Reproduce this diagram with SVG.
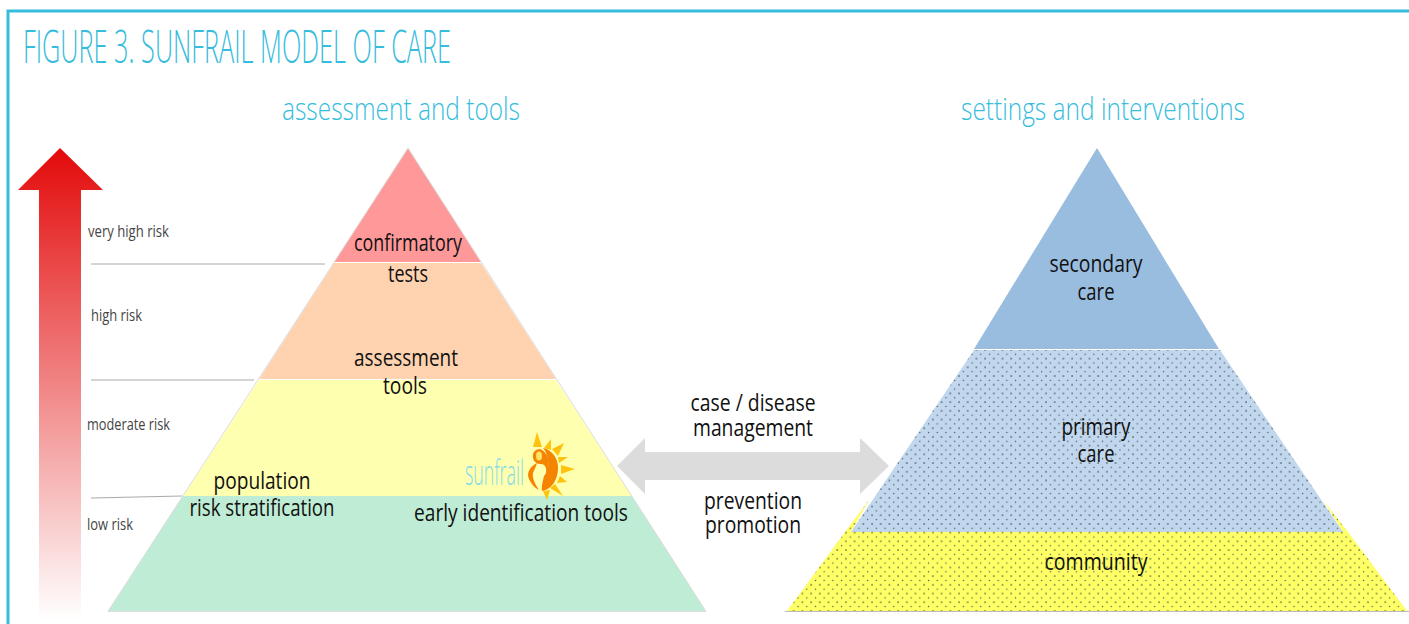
<svg xmlns="http://www.w3.org/2000/svg" width="1409" height="624" viewBox="0 0 1409 624">
<style>
.t{font-family:"Open Sans","Noto Sans",sans-serif;fill:#111;font-size:24px;text-anchor:middle}
.r{font-family:"Open Sans","Noto Sans",sans-serif;fill:#444;font-size:17px}
.h{font-family:"Open Sans","Noto Sans",sans-serif;fill:#36bcdc;font-size:32px;font-weight:300}
.l{stroke:#aaa;stroke-width:1;fill:none}
.e{stroke:#ddd;stroke-width:1;fill:none}
</style>
<defs>
<linearGradient id="g" x1="0" y1="0" x2="0" y2="1"><stop offset="0" stop-color="#e30a0a"/><stop offset="1" stop-color="#fff"/></linearGradient>
<pattern id="d" width="8.700" height="8.700" patternUnits="userSpaceOnUse"><circle cx="2" cy="2" r=".75" fill="#222"/><circle cx="6.350" cy="6.350" r=".7" fill="#555"/></pattern>
</defs>
<rect x="8" y="11" width="1420" height="640" fill="none" stroke="#36bcdc" stroke-width="3"/>
<text class="h" x="23" y="63" style="font-size:46px" textLength="428" lengthAdjust="spacingAndGlyphs">FIGURE 3. SUNFRAIL MODEL OF CARE</text>
<text class="h" x="282" y="120" textLength="238" lengthAdjust="spacingAndGlyphs">assessment and tools</text>
<text class="h" x="961" y="120" textLength="284" lengthAdjust="spacingAndGlyphs">settings and interventions</text>
<g id="risk-arrow"><polygon points="60,148 103,190 81,190 81,620 39,620 39,190 18,190" fill="url(#g)"/></g>
<g id="risk-labels">
<text class="r" x="88" y="237" textLength="81" lengthAdjust="spacingAndGlyphs">very high risk</text>
<text class="r" x="91" y="321" textLength="51" lengthAdjust="spacingAndGlyphs">high risk</text>
<text class="r" x="87" y="430" textLength="83" lengthAdjust="spacingAndGlyphs">moderate risk</text>
<text class="r" x="87" y="530" textLength="46" lengthAdjust="spacingAndGlyphs">low risk</text>
</g>
<g id="connectors">
<path class="l" d="M91 264H325M91 380H254M91 498L182 496"/>
<polygon points="617,466 645,438 645,452 860,452 860,438 889,466 860,494 860,480 645,480 645,494" fill="#dcdcdc"/>
</g>
<g id="left-pyramid">
<g id="level-confirmatory"><polygon points="408,148 481,262 334,262" fill="#ff9999"/></g>
<g id="level-assessment"><polygon points="334,263 481,263 556,379 259,379" fill="#ffd3b0"/></g>
<g id="level-early"><polygon points="259,380 556,380 632,496 183,496" fill="#ffffb0"/></g>
<g id="level-low"><polygon points="183,496 632,496 706,611 108,611" fill="#bfecd5"/></g>
<polygon class="e" points="408,148 706,611.500 108,611.500"/>
<text class="t" x="408" y="251" textLength="108" lengthAdjust="spacingAndGlyphs">confirmatory</text>
<text class="t" x="408" y="282" textLength="40" lengthAdjust="spacingAndGlyphs">tests</text>
<text class="t" x="406" y="366" textLength="104" lengthAdjust="spacingAndGlyphs">assessment</text>
<text class="t" x="405" y="394" textLength="44" lengthAdjust="spacingAndGlyphs">tools</text>
<text class="t" x="262" y="489" textLength="97" lengthAdjust="spacingAndGlyphs">population</text>
<text class="t" x="262" y="516" textLength="145" lengthAdjust="spacingAndGlyphs">risk stratification</text>
<text class="t" x="521" y="521" textLength="214" lengthAdjust="spacingAndGlyphs">early identification tools</text>
</g>
<g id="sunfrail-logo">
<g fill="#ffc20e">
<polygon points="537,432 542,447 533,447"/><polygon points="551,439 551,450 544,448"/><polygon points="564,443 558,456 552,449"/><polygon points="568,457 559,463 558,457"/><polygon points="575,469 561,474 561,465"/><polygon points="567,482 557,483 560,476"/><polygon points="563,496 550,488 555,484"/><polygon points="547,500 543,491 550,490"/>
</g>
<path d="M543 448C553 450 559 460 558 470C557 482 550 490 542 491C541 486 543 481 544 476C548 472 549 466 548 460C547 454 545 450 543 448Z" fill="#f58400"/>
<path d="M540 449C535 449 532 453 533 458C534 462 537 464 541 464C545 464 548 468 545 476L543 480L548 470C550 462 548 452 540 449Z" fill="#f58400"/>
<path d="M537 463C531 466 526 472 529 479C531 484 535 488 539 490C535 484 532 478 533 473C534 470 536 467 537 463Z" fill="#f58400"/>
<ellipse cx="539" cy="456" rx="3" ry="4.500" fill="#ffe26a"/>
<text x="465" y="485" style="font-family:'Open Sans',sans-serif;font-weight:300;font-size:35px;fill:#7fdce8" textLength="59" lengthAdjust="spacingAndGlyphs">sunfrail</text>
</g>
<g id="center-labels">
<text class="t" x="753" y="411" textLength="125" lengthAdjust="spacingAndGlyphs">case / disease</text>
<text class="t" x="753" y="436" textLength="120" lengthAdjust="spacingAndGlyphs">management</text>
<text class="t" x="753" y="509" textLength="98" lengthAdjust="spacingAndGlyphs">prevention</text>
<text class="t" x="753" y="533" textLength="96" lengthAdjust="spacingAndGlyphs">promotion</text>
</g>
<g id="right-pyramid">
<g id="level-community"><polygon points="869,500 845,532 787,611 1407,611 1348,532 1323,500 1343,532 851,532" fill="#ffff66"/><polygon points="869,500 845,532 787,611 1407,611 1348,532 1323,500 1343,532 851,532" fill="url(#d)"/></g>
<g id="level-primary"><polygon points="974,350 1220,350 1343,532 851,532" fill="#c0d7ee"/><polygon points="974,350 1220,350 1343,532 851,532" fill="url(#d)"/></g>
<g id="level-secondary"><polygon points="1097,148 1219,349 974,349" fill="#99bddf"/></g>
<path d="M785 611.500H1409" stroke="#bbb"/>
<text class="t" x="1096" y="272" textLength="93" lengthAdjust="spacingAndGlyphs">secondary</text>
<text class="t" x="1096" y="300" textLength="37" lengthAdjust="spacingAndGlyphs">care</text>
<text class="t" x="1096" y="435" textLength="69" lengthAdjust="spacingAndGlyphs">primary</text>
<text class="t" x="1096" y="462" textLength="37" lengthAdjust="spacingAndGlyphs">care</text>
<text class="t" x="1096" y="570" textLength="103" lengthAdjust="spacingAndGlyphs">community</text>
</g>
</svg>
